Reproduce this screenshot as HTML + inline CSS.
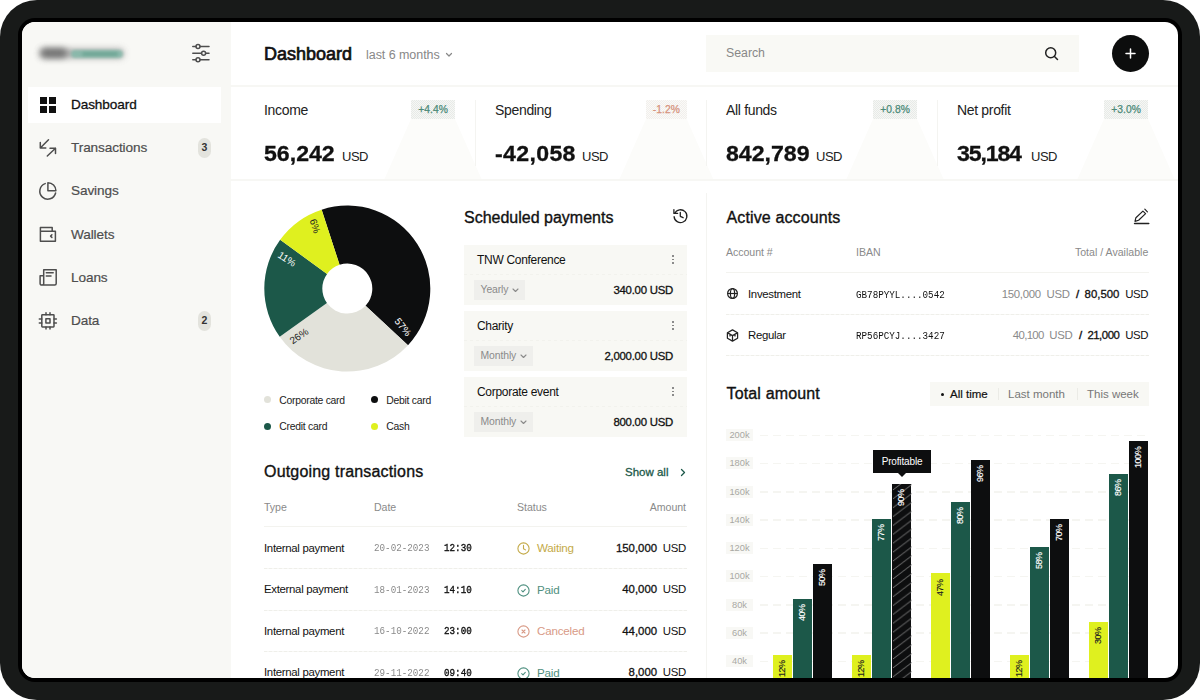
<!DOCTYPE html>
<html>
<head>
<meta charset="utf-8">
<title>Dashboard</title>
<style>
*{box-sizing:border-box;margin:0;padding:0}
html,body{width:1200px;height:700px;overflow:hidden;background:#fff;font-family:"Liberation Sans",sans-serif}
body{font-family:"Liberation Sans",sans-serif;color:#111;position:relative;-webkit-font-smoothing:antialiased}
.abs{position:absolute}
#frame{position:absolute;left:0;top:0;width:1200px;height:700px;background:#181a19;border-radius:37px}
#bezel{position:absolute;left:18px;top:18px;width:1164px;height:664px;background:#000;border-radius:17px}
#screen{position:absolute;left:22px;top:22px;width:1156px;height:656px;background:#fff;border-radius:13px;overflow:hidden}
/* coordinates inside #screen are page coords minus 22 -> use wrapper shifted */
#pg{position:absolute;left:-22px;top:-22px;width:1200px;height:700px}
#side{position:absolute;left:22px;top:22px;width:209px;height:656px;background:#f8f8f5}
.t{position:absolute;white-space:nowrap;line-height:1}
.hl{position:absolute;height:2px;background:#f7f7f4}
.vl{position:absolute;width:1px;background:#f4f4f1}
.nav{font-size:13.6px;color:#4e4e4e;-webkit-text-stroke:.2px #4e4e4e;left:71px;letter-spacing:-.1px;margin-top:1px}
.nbadge{position:absolute;left:197.7px;width:13.3px;height:19.5px;border-radius:6.6px;background:#e3e3dd;font-size:10.5px;font-weight:bold;color:#333;text-align:center;line-height:19px}
.ico{position:absolute;overflow:visible}
.ico *{fill:none;stroke:#4e4e4e;stroke-width:1.5;stroke-linecap:round;stroke-linejoin:round}
.slabel{font-size:14px;color:#222;letter-spacing:-.33px;margin-top:.6px}
.sval{font-size:21.5px;font-weight:bold;color:#111;letter-spacing:0;margin-top:.8px;-webkit-text-stroke:.3px #111;transform:scaleX(1.075);transform-origin:0 50%}
.susd{font-size:13px;color:#222;letter-spacing:-.5px;margin-top:1px}
.sbadge{position:absolute;width:44.3px;height:19.3px;background:conic-gradient(#e7eae7 25%,#f6f7f5 0 50%,#e7eae7 0 75%,#f6f7f5 0) 0 0/2px 2px;font-size:10.3px;text-align:center;line-height:19px;color:#4b8a78;letter-spacing:.05px;-webkit-text-stroke:.25px currentColor}
.trap{position:absolute;width:98px;height:61px;background:#fcfcfa;clip-path:polygon(27px 0,71px 0,98px 100%,0 100%)}
.ldot{width:7px;height:7px;border-radius:50%}
.leg{font-size:10.4px;color:#222;letter-spacing:-.27px}

.h2{font-size:16px;color:#111;-webkit-text-stroke:.35px #111;letter-spacing:0}
.card{position:absolute;left:464px;width:223px;height:60px;background:#f8f8f4}
.card .dl{position:absolute;left:0;top:29px;width:100%;height:1px;background:repeating-linear-gradient(90deg,#f2f2ed 0 3px,transparent 3px 6px)}
.ctitle{margin-top:1px;font-size:12px;color:#111;left:477px;letter-spacing:-.3px}
.pill{position:absolute;left:474px;height:19.5px;margin-top:1px;background:#efefec;font-size:10.4px;color:#8a8a8a;line-height:20px;padding-left:6.5px;letter-spacing:-.1px}
.camt{margin-top:1px;font-size:11.4px;color:#111;-webkit-text-stroke:.3px #111;right:527px;letter-spacing:-.25px}
.dots{position:absolute;left:672px;width:2px;height:10px}
.dots i{position:absolute;left:0;width:1.5px;height:1.5px;background:#777;border-radius:50%}
.th{font-size:10.6px;color:#8a8a8a;letter-spacing:-.05px}
.td{font-size:11.4px;color:#111;letter-spacing:-.3px}
.mono{font-family:"Liberation Mono",monospace;transform:scaleX(.84);transform-origin:0 50%}
.dline{position:absolute;height:1px;background:repeating-linear-gradient(90deg,#efefea 0 3px,#f7f7f4 3px 5px)}
.sline{position:absolute;height:1px;background:#f3f3ef}

.ylab{position:absolute;left:726px;width:27px;height:12px;background:#f8f8f5;font-size:9.3px;color:#a8a8a3;text-align:center;line-height:12px}
.grid{position:absolute;left:760px;width:389px;height:1.5px;background:repeating-linear-gradient(90deg,#f5f5f1 0 8px,transparent 8px 13px)}
.bar{position:absolute;width:19.2px}
.bl{position:absolute;z-index:2;font-size:9px;line-height:1;white-space:nowrap;transform-origin:0 0;transform:rotate(-90deg);letter-spacing:-.45px;-webkit-text-stroke:.15px currentColor}
.tab{font-size:11.5px;color:#777}
</style>
</head>
<body>
<div id="frame"></div>
<div id="bezel"></div>
<div id="screen"><div id="pg">

<!-- SIDEBAR -->
<div id="side"></div>
<div class="abs" style="left:40px;top:48.5px;width:84px;height:9px;background:#8d8d8d;border-radius:5px;filter:blur(3.5px);opacity:.75"></div>
<div class="abs" style="left:40px;top:48px;width:27px;height:10px;background:#555;border-radius:5px;filter:blur(3px);opacity:.68"></div>
<div class="abs" style="left:71px;top:49.5px;width:52px;height:8px;background:#82b8a8;border-radius:4px;filter:blur(1.6px);opacity:.85"></div>
<div class="abs" style="left:82px;top:51.5px;width:36px;height:4px;background:#5d9a88;border-radius:2px;filter:blur(1.5px);opacity:.55"></div>
<svg class="ico" style="left:192px;top:44px" width="18" height="18" viewBox="0 0 18 18"><path d="M0.8 2.6H3.9M8.2 2.6H17M0.8 9.2H9.4M13.8 9.2H17M0.8 15.8H3.9M8.2 15.8H17"/><circle cx="6" cy="2.6" r="2"/><circle cx="11.6" cy="9.2" r="2"/><circle cx="6" cy="15.8" r="2"/></svg>

<div class="abs" style="left:28px;top:86.5px;width:193px;height:36.3px;background:#fff"></div>
<svg class="abs" style="left:40px;top:96.6px" width="16" height="16" viewBox="0 0 16 16"><rect x="0" y="0" width="7" height="7" fill="#111"/><rect x="9" y="0" width="7" height="7" fill="#111"/><rect x="0" y="9" width="7" height="7" fill="#111"/><rect x="9" y="9" width="7" height="7" fill="#111"/></svg>
<div class="t nav" style="top:97px;color:#111;-webkit-text-stroke:.3px #111">Dashboard</div>

<svg class="ico" style="left:39px;top:139px" width="18" height="18" viewBox="0 0 18 18"><path d="M9.5 0.8L1.3 9M1.3 3.5V9H6.8M8.3 17L16.5 9.2M11 9.2H16.5V14.5"/></svg>
<div class="t nav" style="top:140px">Transactions</div>
<div class="nbadge" style="top:138px">3</div>

<svg class="ico" style="left:39px;top:182px" width="18" height="18" viewBox="0 0 18 18"><path d="M6.2 1.6A8 8 0 1 0 16.6 11"/><path d="M8.9 0.7V8.7H16.9A8 8 0 0 0 8.9 0.7Z"/></svg>
<div class="t nav" style="top:183px">Savings</div>

<svg class="ico" style="left:39px;top:226px" width="18" height="18" viewBox="0 0 18 18"><path d="M1.4 5.2H16.4V15.2H1.4ZM1.4 5.2V1.6H13.2V5.2"/><path d="M12.9 8.8L11.6 10.1L12.9 11.4"/></svg>
<div class="t nav" style="top:227px">Wallets</div>

<svg class="ico" style="left:39px;top:269px" width="18" height="18" viewBox="0 0 18 18"><path d="M4.7 0.8H17.2V14.6A1.5 1.5 0 0 1 15.7 16.1H2.8A1.6 1.6 0 0 1 1.1 14.5V6.8H4.7M4.7 0.8V14.4A1.7 1.7 0 0 1 2.9 16.1M7.3 3.7H14.2M7.3 6.9H12"/></svg>
<div class="t nav" style="top:270px">Loans</div>

<svg class="ico" style="left:39px;top:312px" width="18" height="18" viewBox="0 0 18 18"><rect x="2.8" y="2.7" width="12.2" height="12.2" rx=".6"/><rect x="6.9" y="6.8" width="4.1" height="4.1"/><path d="M7 0.7V2.7M11 0.7V2.7M7 14.9V17M11 14.9V17M0.3 7H2.8M0.3 11H2.8M15 7H17.4M15 11H17.4"/></svg>
<div class="t nav" style="top:313px">Data</div>
<div class="nbadge" style="top:311px">2</div>

<!-- HEADER -->
<div class="t" style="left:264px;top:44.8px;font-size:18px;color:#111;-webkit-text-stroke:.7px #111;letter-spacing:0">Dashboard</div>
<div class="t" style="left:366px;top:48.5px;font-size:12.5px;color:#888;letter-spacing:-.05px">last 6 months</div>
<svg class="ico" style="left:445px;top:52px" width="8" height="6" viewBox="0 0 8 6"><path d="M1.5 1.5L4 4l2.5-2.5" style="stroke:#888;stroke-width:1.2"/></svg>
<div class="abs" style="left:706px;top:35px;width:373px;height:36.5px;background:#f9f9f5"></div>
<div class="t" style="left:726px;top:47px;font-size:12.3px;color:#888">Search</div>
<svg class="ico" style="left:1044px;top:46px" width="15" height="15" viewBox="0 0 15 15"><circle cx="6.7" cy="6.7" r="5" style="stroke:#222;stroke-width:1.5"/><path d="M10.5 10.5L13.5 13.5" style="stroke:#222;stroke-width:1.5"/></svg>
<div class="abs" style="left:1112px;top:35px;width:37px;height:37px;border-radius:50%;background:#0c0d0d"></div>
<svg class="ico" style="left:1125px;top:48px" width="11" height="11" viewBox="0 0 11 11"><path d="M5.5 1v9M1 5.5h9" style="stroke:#fff;stroke-width:1.5"/></svg>
<div class="hl" style="left:230px;top:85px;width:948px"></div>

<!-- STATS -->
<div class="trap" style="left:384px;top:119px"></div>
<div class="trap" style="left:619px;top:119px;width:94.7px;clip-path:polygon(27px 0,67.7px 0,94.7px 100%,0 100%)"></div>
<div class="trap" style="left:846px;top:119px"></div>
<div class="trap" style="left:1077px;top:119px"></div>
<div class="vl" style="left:475px;top:100px;height:66px"></div>
<div class="vl" style="left:706px;top:100px;height:66px"></div>
<div class="vl" style="left:937px;top:100px;height:66px"></div>

<div class="t slabel" style="left:264px;top:102px">Income</div>
<div class="sbadge" style="left:411px;top:100px">+4.4%</div>
<div class="t sval" style="left:264px;top:143px">56,242</div>
<div class="t susd" style="left:342px;top:149px">USD</div>

<div class="t slabel" style="left:495px;top:102px">Spending</div>
<div class="sbadge" style="left:646px;top:100px;width:40.7px;color:#d6927c;background:conic-gradient(#f1efec 25%,#fbfaf8 0 50%,#f1efec 0 75%,#fbfaf8 0) 0 0/2px 2px">-1.2%</div>
<div class="t sval" style="left:495px;top:143px;letter-spacing:.32px">-42,058</div>
<div class="t susd" style="left:582px;top:149px">USD</div>

<div class="t slabel" style="left:726px;top:102px">All funds</div>
<div class="sbadge" style="left:873px;top:100px">+0.8%</div>
<div class="t sval" style="left:726px;top:143px;letter-spacing:0">842,789</div>
<div class="t susd" style="left:816px;top:149px">USD</div>

<div class="t slabel" style="left:957px;top:102px">Net profit</div>
<div class="sbadge" style="left:1104px;top:100px">+3.0%</div>
<div class="t sval" style="left:957px;top:143px;letter-spacing:-1.07px">35,184</div>
<div class="t susd" style="left:1031px;top:149px">USD</div>
<div class="hl" style="left:230px;top:179px;width:948px"></div>
<div class="vl" style="left:706px;top:193px;height:485px"></div>

<!--PIE-->
<svg class="abs" style="left:0;top:0" width="1200" height="700" viewBox="0 0 1200 700"><path d="M321.65 209.66A83 83 0 0 1 408.00 345.21L365.58 305.65A25 25 0 0 0 339.57 264.82Z" fill="#0d0e0f"/><path d="M408.00 345.21A83 83 0 0 1 279.73 336.80L326.95 303.12A25 25 0 0 0 365.58 305.65Z" fill="#e2e2da"/><path d="M279.73 336.80A83 83 0 0 1 280.15 239.81L327.07 273.91A25 25 0 0 0 326.95 303.12Z" fill="#1c5849"/><path d="M280.15 239.81A83 83 0 0 1 321.65 209.66L339.57 264.82A25 25 0 0 0 327.07 273.91Z" fill="#dff01f"/><text x="403" y="327" transform="rotate(52 403 327)" fill="#fff" font-size="10" text-anchor="middle" dominant-baseline="central" font-family="Liberation Sans">57%</text><text x="299" y="336" transform="rotate(-35 299 336)" fill="#222" font-size="10" text-anchor="middle" dominant-baseline="central" font-family="Liberation Sans">26%</text><text x="287" y="259" transform="rotate(33 287 259)" fill="#fff" font-size="10" text-anchor="middle" dominant-baseline="central" font-family="Liberation Sans">11%</text><text x="315" y="226" transform="rotate(72 315 226)" fill="#222" font-size="10" text-anchor="middle" dominant-baseline="central" font-family="Liberation Sans">6%</text></svg>
<div class="abs ldot" style="left:264px;top:396.3px;background:#e2e2da"></div><div class="t leg" style="left:279.3px;top:395.5px">Corporate card</div>
<div class="abs ldot" style="left:371px;top:396.3px;background:#0d0e0f"></div><div class="t leg" style="left:386.3px;top:395.5px">Debit card</div>
<div class="abs ldot" style="left:264px;top:423.2px;background:#1c5849"></div><div class="t leg" style="left:279.3px;top:422.3px">Credit card</div>
<div class="abs ldot" style="left:371px;top:423.2px;background:#dff01f"></div><div class="t leg" style="left:386.3px;top:422.3px">Cash</div>

<!--SCHED-->

<div class="t h2" style="left:464px;top:209.5px">Scheduled payments</div>
<svg class="ico" style="left:672.5px;top:209px" width="15" height="15" viewBox="0 0 15 15"><path d="M1.7 4.4A6.4 6.4 0 1 1 1.1 7.6" style="stroke:#222;stroke-width:1.3"/><path d="M0.9 0.6v3.8h3.7" style="stroke:#222;stroke-width:1.3"/><path d="M7.3 3.4v3.9l2.8 1.4" style="stroke:#222;stroke-width:1.3"/></svg>
<div class="card" style="top:245px"><div class="dl"></div></div>
<div class="t ctitle" style="top:253px">TNW Conference</div>
<div class="dots" style="top:255px"><i style="top:0"></i><i style="top:3.7px"></i><i style="top:7.4px"></i></div>
<div class="pill" style="top:279px;width:51px">Yearly</div>
<svg class="ico" style="left:512px;top:288px" width="7" height="5" viewBox="0 0 7 5"><path d="M1 1l2.5 2.5L6 1" style="stroke:#8a8a8a;stroke-width:1.1"/></svg>
<div class="t camt" style="top:284px">340.00 USD</div>
<div class="card" style="top:311px"><div class="dl"></div></div>
<div class="t ctitle" style="top:319px">Charity</div>
<div class="dots" style="top:321px"><i style="top:0"></i><i style="top:3.7px"></i><i style="top:7.4px"></i></div>
<div class="pill" style="top:345px;width:59px">Monthly</div>
<svg class="ico" style="left:520px;top:354px" width="7" height="5" viewBox="0 0 7 5"><path d="M1 1l2.5 2.5L6 1" style="stroke:#8a8a8a;stroke-width:1.1"/></svg>
<div class="t camt" style="top:350px">2,000.00 USD</div>
<div class="card" style="top:377px"><div class="dl"></div></div>
<div class="t ctitle" style="top:385px">Corporate event</div>
<div class="dots" style="top:387px"><i style="top:0"></i><i style="top:3.7px"></i><i style="top:7.4px"></i></div>
<div class="pill" style="top:411px;width:59px">Monthly</div>
<svg class="ico" style="left:520px;top:420px" width="7" height="5" viewBox="0 0 7 5"><path d="M1 1l2.5 2.5L6 1" style="stroke:#8a8a8a;stroke-width:1.1"/></svg>
<div class="t camt" style="top:416px">800.00 USD</div>

<!--TRANS-->

<div class="t h2" style="left:264px;top:463.6px;letter-spacing:.18px">Outgoing transactions</div>
<div class="t" style="left:625px;top:467px;font-size:11.5px;color:#1c5849;-webkit-text-stroke:.3px #1c5849">Show all</div>
<svg class="ico" style="left:680px;top:468px" width="6" height="9" viewBox="0 0 6 9"><path d="M1.5 1.5l3 3-3 3" style="stroke:#1c5849;stroke-width:1.3"/></svg>
<div class="t th" style="left:264px;top:502px">Type</div>
<div class="t th" style="left:374px;top:502px">Date</div>
<div class="t th" style="left:517px;top:502px">Status</div>
<div class="t th" style="right:514px;top:502px">Amount</div>
<div class="sline" style="left:264px;top:526px;width:423px"></div>
<div class="t td" style="left:264px;top:542.9px">Internal payment</div>
<div class="t mono" style="left:374px;top:543.0px;font-size:11px;color:#8a8a8a">20-02-2023</div>
<div class="t mono" style="left:444px;top:543.0px;font-size:11px;color:#111;-webkit-text-stroke:.35px #111">12:30</div>
<svg class="abs" style="left:516.5px;top:542.0px" width="13" height="13" viewBox="0 0 13 13" fill="none" stroke="#c4aa48" stroke-width="1.1" stroke-linecap="round" stroke-linejoin="round"><circle cx="6.5" cy="6.5" r="5.6"/><path d="M6.5 3.4v3.3l2 1.2"/></svg>
<div class="t" style="left:537px;top:542.1px;font-size:11.6px;letter-spacing:-.2px;color:#c4aa48">Waiting</div>
<div class="t td" style="right:514px;top:542.9px"><span style="-webkit-text-stroke:.3px #111;letter-spacing:0">150,000</span>&nbsp; USD</div>
<div class="dline" style="left:264px;top:568px;width:423px"></div>
<div class="t td" style="left:264px;top:584.4px">External payment</div>
<div class="t mono" style="left:374px;top:584.5px;font-size:11px;color:#8a8a8a">18-01-2023</div>
<div class="t mono" style="left:444px;top:584.5px;font-size:11px;color:#111;-webkit-text-stroke:.35px #111">14:10</div>
<svg class="abs" style="left:516.5px;top:583.5px" width="13" height="13" viewBox="0 0 13 13" fill="none" stroke="#4f9080" stroke-width="1.1" stroke-linecap="round" stroke-linejoin="round"><circle cx="6.5" cy="6.5" r="5.6"/><path d="M4.7 6.7l1.3 1.2 2.3-2.5"/></svg>
<div class="t" style="left:537px;top:583.6px;font-size:11.6px;letter-spacing:-.2px;color:#4f9080">Paid</div>
<div class="t td" style="right:514px;top:584.4px"><span style="-webkit-text-stroke:.3px #111;letter-spacing:0">40,000</span>&nbsp; USD</div>
<div class="dline" style="left:264px;top:609.5px;width:423px"></div>
<div class="t td" style="left:264px;top:625.9px">Internal payment</div>
<div class="t mono" style="left:374px;top:626.0px;font-size:11px;color:#8a8a8a">16-10-2022</div>
<div class="t mono" style="left:444px;top:626.0px;font-size:11px;color:#111;-webkit-text-stroke:.35px #111">23:00</div>
<svg class="abs" style="left:516.5px;top:625.0px" width="13" height="13" viewBox="0 0 13 13" fill="none" stroke="#d89a86" stroke-width="1.1" stroke-linecap="round" stroke-linejoin="round"><circle cx="6.5" cy="6.5" r="5.6"/><path d="M5 5l3 3M8 5l-3 3"/></svg>
<div class="t" style="left:537px;top:625.1px;font-size:11.6px;letter-spacing:-.2px;color:#d89a86">Canceled</div>
<div class="t td" style="right:514px;top:625.9px"><span style="-webkit-text-stroke:.3px #111;letter-spacing:0">44,000</span>&nbsp; USD</div>
<div class="dline" style="left:264px;top:651px;width:423px"></div>
<div class="t td" style="left:264px;top:667.4px">Internal payment</div>
<div class="t mono" style="left:374px;top:667.5px;font-size:11px;color:#8a8a8a">29-11-2022</div>
<div class="t mono" style="left:444px;top:667.5px;font-size:11px;color:#111;-webkit-text-stroke:.35px #111">09:40</div>
<svg class="abs" style="left:516.5px;top:666.5px" width="13" height="13" viewBox="0 0 13 13" fill="none" stroke="#4f9080" stroke-width="1.1" stroke-linecap="round" stroke-linejoin="round"><circle cx="6.5" cy="6.5" r="5.6"/><path d="M4.7 6.7l1.3 1.2 2.3-2.5"/></svg>
<div class="t" style="left:537px;top:666.6px;font-size:11.6px;letter-spacing:-.2px;color:#4f9080">Paid</div>
<div class="t td" style="right:514px;top:667.4px"><span style="-webkit-text-stroke:.3px #111;letter-spacing:0">8,000</span>&nbsp; USD</div>

<!--ACCOUNTS-->

<div class="t h2" style="left:726.5px;top:209.5px;letter-spacing:.13px">Active accounts</div>
<svg class="ico" style="left:1134px;top:208px" width="16" height="17" viewBox="0 0 16 17"><path d="M0.5 15.5H14.8" style="stroke:#222;stroke-width:1.4"/><path d="M1 13.4L1.9 9.7L8.9 3.1L11.6 5.6L4.6 12.3Z" style="stroke:#222;stroke-width:1.2"/><path d="M10.8 1.2L13.4 3.9" style="stroke:#222;stroke-width:1.2"/></svg>
<div class="t th" style="left:726px;top:247.3px">Account #</div>
<div class="t th" style="left:856px;top:247.3px">IBAN</div>
<div class="t th" style="right:51.7px;top:247.3px;letter-spacing:0">Total / Available</div>
<div class="sline" style="left:726px;top:272px;width:423px"></div>
<div class="dline" style="left:726px;top:313.5px;width:423px"></div>
<div class="dline" style="left:726px;top:355px;width:423px"></div>
<svg class="abs" style="left:726px;top:287px" width="13" height="13" viewBox="0 0 13 13" fill="none" stroke="#222" stroke-width="1.2"><circle cx="6.5" cy="6.5" r="4.9"/><ellipse cx="6.5" cy="6.5" rx="2.1" ry="4.9"/><path d="M1.6 6.5h9.8"/></svg>
<div class="t td" style="left:748px;top:288.8px">Investment</div>
<div class="t mono" style="left:856px;top:289.5px;font-size:11px;color:#111">GB78PYYL....0542</div>
<div class="t td" style="right:51.7px;top:288.8px"><span style="color:#8a8a8a">150,000&nbsp; USD</span><b style="margin:0 5.6px 0 6.4px;font-weight:normal;-webkit-text-stroke:.4px #111">/</b><span style="-webkit-text-stroke:.3px #111;letter-spacing:0">80,500</span>&nbsp; USD</div>
<svg class="abs" style="left:726px;top:328.8px" width="13" height="13" viewBox="0 0 13 13" fill="none" stroke="#222" stroke-width="1.25" stroke-linejoin="round"><path d="M6.5 0.9L11.6 3.7v5.6L6.5 12.1 1.4 9.3V3.7z"/><path d="M1.6 3.9l4.9 2.7 4.9-2.7M6.5 6.6V12M4 5.2V7.4M9 5.2V7.4"/></svg>
<div class="t td" style="left:748px;top:330px">Regular</div>
<div class="t mono" style="left:856px;top:331px;font-size:11px;color:#111">RP56PCYJ....3427</div>
<div class="t td" style="right:51.7px;top:330px"><span style="color:#8a8a8a"><span style="letter-spacing:-.67px">40,100</span>&nbsp; USD</span><b style="margin:0 5.6px 0 6.4px;font-weight:normal;-webkit-text-stroke:.4px #111">/</b><span style="-webkit-text-stroke:.3px #111;letter-spacing:-.47px">21,000</span>&nbsp; USD</div>

<!--CHART-->

<div class="t h2" style="left:726.5px;top:385.7px;letter-spacing:.15px">Total amount</div>
<div class="abs" style="left:930px;top:382px;width:219px;height:24px;background:#f8f8f4"></div>
<div class="abs" style="left:941px;top:393px;width:3px;height:3px;border-radius:50%;background:#111"></div>
<div class="t tab" style="left:950px;top:389px;color:#111;-webkit-text-stroke:.2px #111">All time</div>
<div class="vl" style="left:998px;top:388px;height:12px;background:#ebebe6"></div>
<div class="t tab" style="left:1008px;top:389px">Last month</div>
<div class="vl" style="left:1077px;top:388px;height:12px;background:#ebebe6"></div>
<div class="t tab" style="left:1087px;top:389px">This week</div>
<div class="grid" style="top:434.7px"></div><div class="ylab" style="top:429.2px">200k</div>
<div class="grid" style="top:462.9px"></div><div class="ylab" style="top:457.4px">180k</div>
<div class="grid" style="top:491.2px"></div><div class="ylab" style="top:485.7px">160k</div>
<div class="grid" style="top:519.4px"></div><div class="ylab" style="top:513.9px">140k</div>
<div class="grid" style="top:547.6px"></div><div class="ylab" style="top:542.1px">120k</div>
<div class="grid" style="top:575.9px"></div><div class="ylab" style="top:570.4px">100k</div>
<div class="grid" style="top:604.1px"></div><div class="ylab" style="top:598.6px">80k</div>
<div class="grid" style="top:632.3px"></div><div class="ylab" style="top:626.8px">60k</div>
<div class="grid" style="top:660.5px"></div><div class="ylab" style="top:655.0px">40k</div>
<div class="bar" style="left:772.8px;top:655.1px;height:24.9px;background:#dff01f"></div>
<div class="bl" style="left:777.7px;top:677.3px;color:#222">12%</div>
<div class="bar" style="left:792.8px;top:598.7px;height:81.3px;background:#1c5849"></div>
<div class="bl" style="left:797.8px;top:620.9px;color:#fff">40%</div>
<div class="bar" style="left:812.9px;top:563.8px;height:116.2px;background:#0d0e0f"></div>
<div class="bl" style="left:817.8px;top:586.0px;color:#fff">50%</div>
<div class="bar" style="left:851.9px;top:655.1px;height:24.9px;background:#dff01f"></div>
<div class="bl" style="left:856.8px;top:677.3px;color:#222">12%</div>
<div class="bar" style="left:872.0px;top:518.8px;height:161.2px;background:#1c5849"></div>
<div class="bl" style="left:876.9px;top:541.0px;color:#fff">77%</div>
<div class="bar" style="left:892.0px;top:483.9px;height:196.1px;background:#0d0e0f"></div>
<div class="bl" style="left:896.9px;top:506.1px;color:#fff">90%</div>
<div class="bar" style="left:931.0px;top:573.4px;height:106.6px;background:#dff01f"></div>
<div class="bl" style="left:935.9px;top:595.6px;color:#222">47%</div>
<div class="bar" style="left:951.1px;top:502.1px;height:177.9px;background:#1c5849"></div>
<div class="bl" style="left:956.0px;top:524.3px;color:#fff">80%</div>
<div class="bar" style="left:971.1px;top:459.7px;height:220.3px;background:#0d0e0f"></div>
<div class="bl" style="left:976.0px;top:481.9px;color:#fff">96%</div>
<div class="bar" style="left:1010.1px;top:655.1px;height:24.9px;background:#dff01f"></div>
<div class="bl" style="left:1015.0px;top:677.3px;color:#222">12%</div>
<div class="bar" style="left:1030.1px;top:547.0px;height:133.0px;background:#1c5849"></div>
<div class="bl" style="left:1035.0px;top:569.2px;color:#fff">58%</div>
<div class="bar" style="left:1050.2px;top:518.8px;height:161.2px;background:#0d0e0f"></div>
<div class="bl" style="left:1055.1px;top:541.0px;color:#fff">70%</div>
<div class="bar" style="left:1089.2px;top:622.1px;height:57.9px;background:#dff01f"></div>
<div class="bl" style="left:1094.1px;top:644.3px;color:#222">30%</div>
<div class="bar" style="left:1109.2px;top:473.9px;height:206.1px;background:#1c5849"></div>
<div class="bl" style="left:1114.1px;top:496.1px;color:#fff">86%</div>
<div class="bar" style="left:1129.3px;top:440.8px;height:239.2px;background:#0d0e0f"></div>
<div class="bl" style="left:1134.2px;top:467.8px;color:#fff">100%</div>

<svg class="abs" style="left:892.9px;top:483.9px" width="19.2" height="196.1" viewBox="0 0 18.8 196.1" preserveAspectRatio="none"><defs><pattern id="hp" width="18.8" height="8.9" patternUnits="userSpaceOnUse"><path d="M-2 16.3L20.8 -1.3M-2 25.2L20.8 7.6M-2 7.4L20.8 -10.2" stroke="#8c8c8c" stroke-width=".8" fill="none"/></pattern></defs><rect width="18.8" height="196.1" fill="url(#hp)"/></svg>
<div class="abs" style="left:873px;top:450px;width:58px;height:22.6px;background:#0d0e0f"></div>
<div class="abs" style="left:897.5px;top:472.5px;width:0;height:0;border-left:4px solid transparent;border-right:4px solid transparent;border-top:4.5px solid #0d0e0f"></div>
<div class="t" style="left:873px;top:457px;width:58px;text-align:center;font-size:10px;color:#fff;letter-spacing:-.15px">Profitable</div>


</div></div>
</body>
</html>
